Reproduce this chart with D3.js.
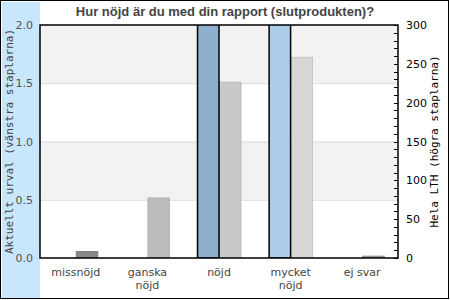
<!DOCTYPE html>
<html lang="sv">
<head>
<meta charset="UTF-8">
<title>Hur nöjd är du med din rapport</title>
<script src="https://cdn.jsdelivr.net/npm/d3@7"></script>
<style>
  body { margin: 0; background: #fff; }
</style>
</head>
<body>
<div id="chart"></div>
<script>
// data
const categories = ["missnöjd", "ganska nöjd", "nöjd", "mycket nöjd", "ej svar"];
const urval = [0, 0, 3, 4, 0];          // vänstra staplarna (klipps vid 2.0)
const helaLTH = [9, 78, 227, 259, 3];   // högra staplarna
const leftTicks = [0, 0.5, 1.0, 1.5, 2.0];
const rightTicks = [0, 50, 100, 150, 200, 250, 300];

const urvalColors = ["#8eb0cc", "#8eb0cc", "#8eb0cc", "#abcde9", "#8eb0cc"];
const lthColors = ["#888888", "#bcbcbc", "#c9c9c9", "#d7d7d7", "#999999"];
const lthStroke = ["#808080", "#b4b4b4", "#bcbcbc", "#c6c6c6", "#8c8c8c"];

const width = 450, height = 300;
const margin = { top: 25, right: 52, bottom: 42, left: 40 };
const x0 = margin.left, x1 = width - margin.right;
const y0 = height - margin.bottom, y1 = margin.top;

const svg = d3.select("#chart").append("svg")
  .attr("width", width).attr("height", height);

// bakgrundsband till vänster
svg.append("rect").attr("x", 2).attr("y", 2).attr("width", x0 - 2).attr("height", height - 4)
  .attr("fill", "#c8e6fc");

const x = d3.scaleBand().domain(categories).range([x0, x1]);
const yL = d3.scaleLinear().domain([0, 2]).range([y0, y1]);
const yR = d3.scaleLinear().domain([0, 300]).range([y0, y1]);

// randiga band
const bands = [[1.5, 2.0], [0.5, 1.0]];
svg.selectAll("rect.band").data(bands).enter().append("rect")
  .attr("class", "band")
  .attr("x", x0).attr("width", x1 - x0)
  .attr("y", d => yL(d[1])).attr("height", d => yL(d[0]) - yL(d[1]))
  .attr("fill", "#f2f2f2");

svg.selectAll("line.grid").data([0.5, 1.0, 1.5]).enter().append("line")
  .attr("class", "grid")
  .attr("x1", x0).attr("x2", x1)
  .attr("y1", d => yL(d) + 0.5).attr("y2", d => yL(d) + 0.5)
  .attr("stroke", "#dddddd");

svg.append("clipPath").attr("id", "plotclip").append("rect")
  .attr("x", x0).attr("y", y1).attr("width", x1 - x0).attr("height", y0 - y1);

const barW = x.bandwidth() * 0.3;
const g = svg.append("g").attr("clip-path", "url(#plotclip)");

g.selectAll("rect.lth").data(helaLTH).enter().append("rect")
  .attr("class", "lth")
  .attr("x", (d, i) => x(categories[i]) + x.bandwidth() / 2 + 0.5)
  .attr("y", d => yR(d) + 0.5)
  .attr("width", barW)
  .attr("height", d => Math.max(0, y0 - yR(d)))
  .attr("fill", (d, i) => lthColors[i])
  .attr("stroke", (d, i) => lthStroke[i]);

g.selectAll("rect.urval").data(urval).enter().append("rect")
  .attr("class", "urval")
  .attr("x", (d, i) => x(categories[i]) + x.bandwidth() / 2 - barW)
  .attr("y", d => yL(d))
  .attr("width", barW)
  .attr("height", d => y0 - yL(d))
  .attr("fill", (d, i) => urvalColors[i])
  .attr("stroke", d => d > 0 ? "#000" : "none")
  .attr("stroke-width", 1.5);

// ram runt plotten
svg.append("rect").attr("x", x0).attr("y", y1).attr("width", x1 - x0).attr("height", y0 - y1)
  .attr("fill", "none").attr("stroke", "#000").attr("stroke-width", 1.5);

// vänster axel
const leftAxis = svg.append("g").attr("transform", `translate(${x0},0)`)
  .call(d3.axisLeft(yL).tickValues(leftTicks).tickFormat(d3.format(".1f")).tickSize(0).tickPadding(7));
leftAxis.select(".domain").remove();
leftAxis.selectAll("text").attr("font-family", "DejaVu Sans").attr("font-size", 11).attr("fill", "#555");

// höger axel
const rightAxis = svg.append("g").attr("transform", `translate(${x1},0)`)
  .call(d3.axisRight(yR).tickValues(rightTicks).tickSize(0).tickPadding(8));
rightAxis.select(".domain").remove();
rightAxis.selectAll("text").attr("font-family", "DejaVu Sans").attr("font-size", 11).attr("fill", "#000");

const minor = d3.range(0, 301, 10);
svg.selectAll("line.rtick").data(minor).enter().append("line")
  .attr("class", "rtick")
  .attr("x1", x1 - 4).attr("x2", x1)
  .attr("y1", d => Math.round(yR(d)) + 0.5).attr("y2", d => Math.round(yR(d)) + 0.5)
  .attr("stroke", "#000");

// kategorietiketter
const labels = svg.append("g");
categories.forEach(c => {
  const t = labels.append("text")
    .attr("x", x(c) + x.bandwidth() / 2)
    .attr("y", y0 + 18)
    .attr("text-anchor", "middle")
    .attr("font-family", "DejaVu Sans").attr("font-size", 11).attr("fill", "#444");
  c.split(" ").length > 1 && c !== "ej svar"
    ? c.split(" ").forEach((w, k) => t.append("tspan").attr("x", x(c) + x.bandwidth() / 2).attr("dy", k ? 13 : 0).text(w))
    : t.text(c);
});

// titlar
svg.append("text").attr("x", 225).attr("y", 16).attr("text-anchor", "middle")
  .attr("font-family", "Liberation Sans").attr("font-weight", "bold").attr("font-size", 13)
  .attr("fill", "#444").text("Hur nöjd är du med din rapport (slutprodukten)?");

svg.append("text")
  .attr("transform", `translate(13,${(y0 + y1) / 2}) rotate(-90)`)
  .attr("text-anchor", "middle")
  .attr("font-family", "DejaVu Sans Mono").attr("font-size", 11).attr("fill", "#444")
  .text("Aktuellt urval (vänstra staplarna)");

svg.append("text")
  .attr("transform", `translate(438,${(y0 + y1) / 2}) rotate(-90)`)
  .attr("text-anchor", "middle")
  .attr("font-family", "DejaVu Sans Mono").attr("font-size", 11).attr("fill", "#000")
  .text("Hela LTH (högra staplarna)");

// yttre ram
svg.append("rect").attr("x", 0.5).attr("y", 0.5).attr("width", 448).attr("height", 298)
  .attr("fill", "none").attr("stroke", "#000");
</script>
</body>
</html>
